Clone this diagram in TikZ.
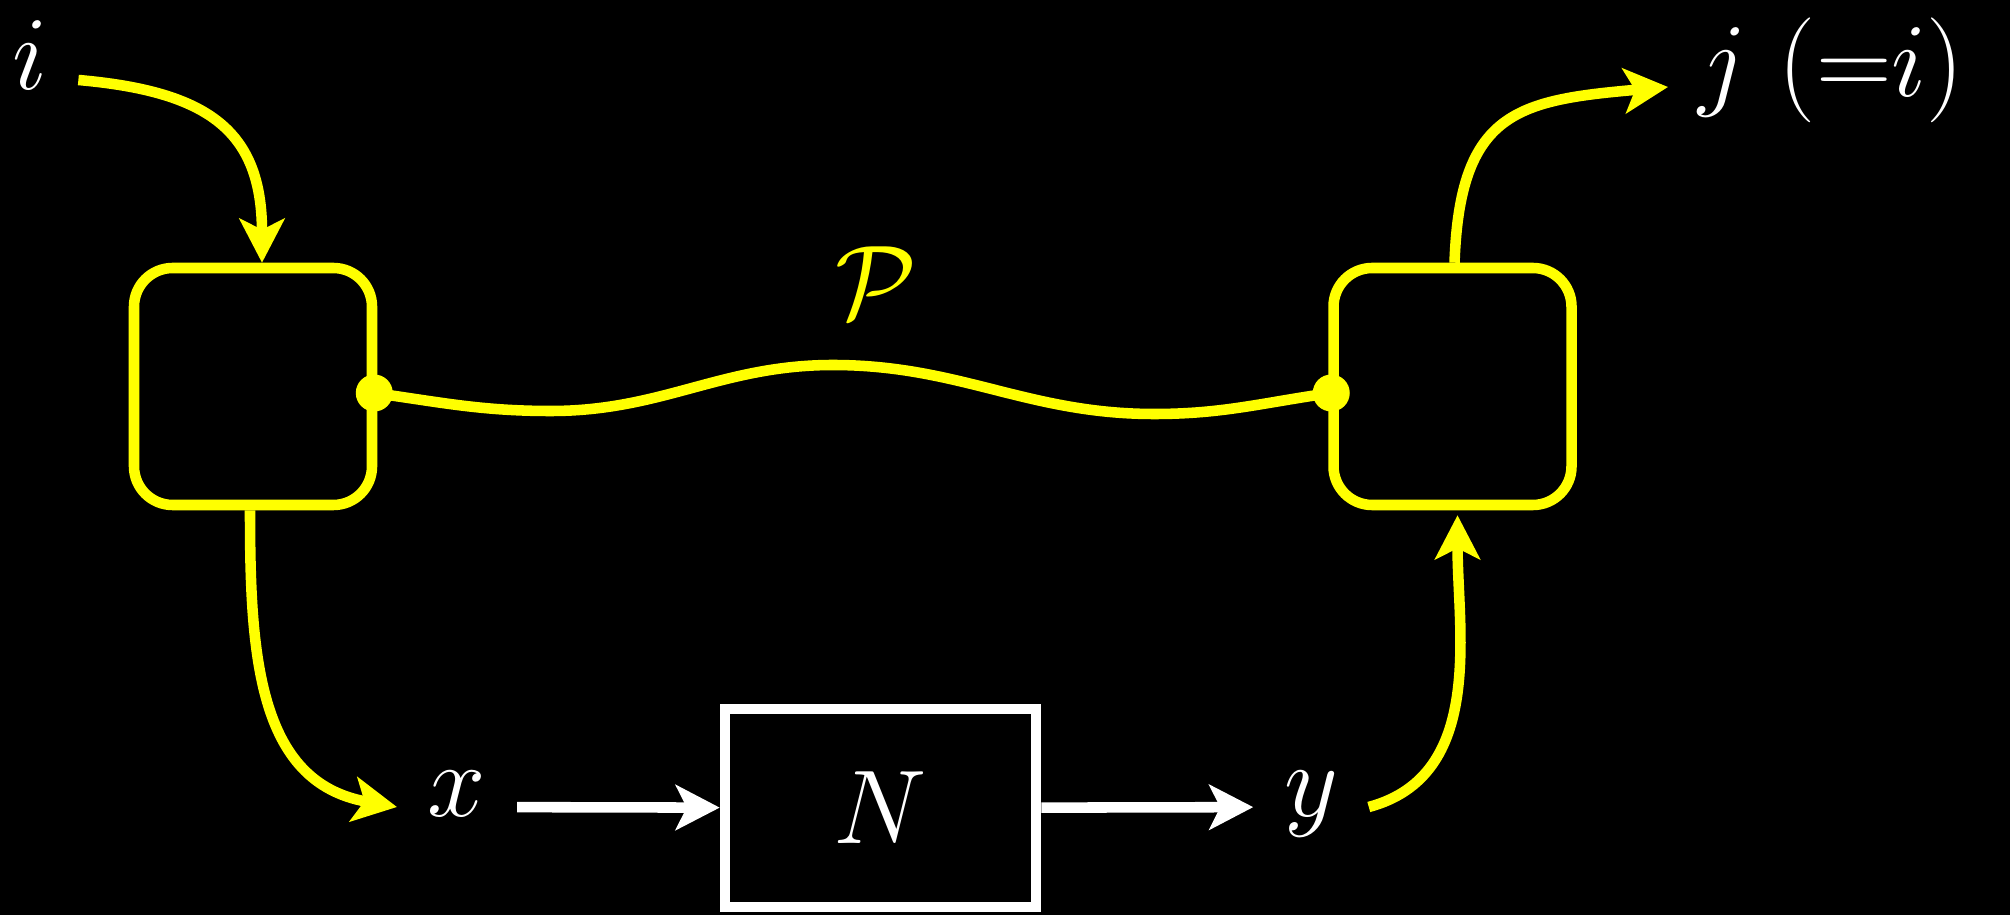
\documentclass[tikz,border=0pt]{standalone}
\usepackage{tikz}
\usetikzlibrary{positioning, arrows.meta}
\definecolor{hlyellow}{RGB}{255,255,0}

\begin{document}
\begin{tikzpicture}[
    ybox/.style={rectangle, draw=hlyellow, line width=3pt, rounded corners=11pt, minimum width=2.38cm, minimum height=2.37cm},
    wbox/.style={rectangle, draw=white, line width=3pt, minimum width=3.11cm, minimum height=1.98cm},
    ydot/.style={circle, fill=hlyellow, inner sep=0pt, minimum size=0.37cm},
    lbltxt/.style={text=white, font=\Huge, scale=1.2, inner sep=0.25cm},
    lbl/.style={lbltxt, text height=0.43em, text depth=0pt},
    ylink/.style={draw=hlyellow, line width=3pt},
    yarrow/.style={ylink, -{Stealth[length=4.4mm, width=4.5mm, inset=1.1mm]}},
    warrow/.style={draw=white, line width=3pt, -{Stealth[length=4.4mm, width=4.5mm, inset=1.1mm]}}
]
% page: black background, fixed size
\path[use as bounding box, fill=black] (0,0) rectangle (20.1,9.15);

% the two yellow blocks and the white block
\node[ybox] (enc) at (2.53,5.285) {};
\node[ybox] (dec) at (14.525,5.285) {};
\node[wbox] (net) at (8.805,1.07) {};
\node[lbltxt] (nlbl) at (net) {$N$};

% joints of the P line
\node[ydot] (pl) at ([xshift=-0.03cm, yshift=-0.065cm]enc.east) {};
\node[ydot] (pr) at ([xshift=0.03cm, yshift=-0.065cm]dec.west) {};

% labels
\node[lbl] (ilbl) at (0.30,8.35) {$i$};
\node[lbl] (xlbl) at (4.57,1.08) {$x$};
\node[lbl] (ylbl) at (13.11,1.08) {$y$};
\node[lbl, anchor=west] (jlbl) at (16.68,8.28) {$j\ ({=}i)$};
\node[lbltxt, text=hlyellow] (plbl) at (8.76,6.32) {$\mathcal{P}$};

% P line between the blocks
\draw[ylink] (pl.center) to[out=-8,in=180] (5.51,5.04) to[out=0,in=180] (8.33,5.50)
    to[out=0,in=180] (11.54,5.01) to[out=0,in=-172] (pr.center);

% yellow arrows
\draw[yarrow] (ilbl.east) to[out=-5,in=90,looseness=1.3] ([xshift=0.09cm]enc.north);
\draw[yarrow] ([xshift=-0.03cm]enc.south) to[out=-90,in=170,looseness=1.1] (xlbl.west);
\draw[yarrow, shorten >=0.05cm] (ylbl.east) to[out=15,in=-90] ([xshift=0.05cm]dec.south);
\draw[yarrow] ([xshift=0.02cm]dec.north) to[out=88,in=185,looseness=1.4] (jlbl.west);

% white arrows
\draw[warrow] (xlbl) -- (net);
\draw[warrow] (net) -- (ylbl);

\end{tikzpicture}
\end{document}
